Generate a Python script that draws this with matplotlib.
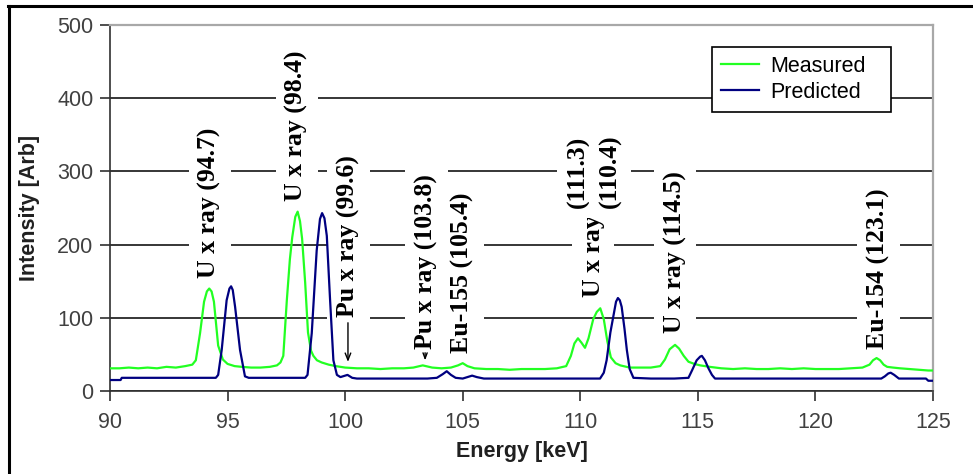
import matplotlib
matplotlib.use("Agg")
import matplotlib.pyplot as plt
from matplotlib.lines import Line2D

# Measured spectrum (green)
meas_e = [90.0, 90.4, 90.8, 91.2, 91.6, 92.0, 92.4, 92.8, 93.2, 93.5, 93.65, 93.83, 94.0, 94.12,
          94.22, 94.32, 94.42, 94.6, 94.8, 95.0, 95.3, 95.6, 96.0, 96.4, 96.8, 97.1, 97.25, 97.37,
          97.52, 97.65, 97.75, 97.88, 97.98, 98.08, 98.17, 98.3, 98.42, 98.55, 98.65, 98.8, 99.0,
          99.3, 99.6, 100.0, 100.5, 101.0, 101.5, 102.0, 102.5, 102.9, 103.3, 103.7, 104.1, 104.5,
          104.8, 105.0, 105.2, 105.5, 106.0, 106.5, 107.0, 107.5, 108.0, 108.5, 109.0, 109.4, 109.6,
          109.75, 109.9, 110.05, 110.2, 110.35, 110.55, 110.7, 110.85, 111.0, 111.15, 111.3, 111.5,
          111.7, 112.1, 112.5, 113.0, 113.4, 113.6, 113.8, 114.03, 114.2, 114.4, 114.6, 114.85,
          115.1, 115.5, 116.0, 116.5, 117.0, 117.5, 118.0, 118.5, 119.0, 119.5, 120.0, 120.5, 121.0,
          121.5, 122.0, 122.3, 122.45, 122.6, 122.75, 122.9, 123.05, 123.3, 123.6, 124.0, 124.4,
          124.8, 125.0]
meas_i = [31, 31, 32, 31, 32, 31, 33, 32, 34, 36, 42, 79, 122, 136,
          140, 136, 122, 62, 43, 37, 34, 33, 32, 32, 33, 35, 39, 48,
          124, 180, 210, 238, 245, 232, 208, 148, 80, 55, 48, 42, 39,
          36, 34, 32, 31, 31, 30, 31, 31, 32, 35, 32, 31, 32,
          35, 38, 34, 31, 30, 30, 29, 30, 30, 30, 31, 34, 48,
          65, 72, 66, 59, 72, 98, 108, 113, 98, 68, 46, 38,
          35, 32, 32, 32, 34, 43, 57, 63, 58, 48, 40, 37,
          35, 33, 31, 30, 31, 30, 30, 31, 30, 31, 30, 30, 30,
          31, 32, 36, 42, 45, 42, 36, 33, 32, 31, 30, 29,
          28, 28]

# Predicted spectrum (navy)
pred_e = [90.0, 90.45, 90.5, 91.5, 92.5, 93.5, 94.5, 94.6, 94.75, 94.96, 95.08, 95.15, 95.22,
          95.32, 95.53, 95.74, 95.9, 96.5, 97.5, 98.3, 98.4, 98.58, 98.79, 98.93, 99.02, 99.12,
          99.22, 99.36, 99.5, 99.65, 99.8, 100.1, 100.3, 100.5, 101.5, 102.5, 103.5, 103.9, 104.15,
          104.32, 104.5, 104.7, 105.0, 105.2, 105.4, 105.6, 105.9, 107.0, 108.0, 109.0, 110.0,
          110.84, 111.0, 111.12, 111.28, 111.4, 111.52, 111.6, 111.68, 111.76, 111.88, 111.98,
          112.1, 112.26, 113.0, 114.0, 114.6, 114.75, 114.95, 115.1, 115.17, 115.3, 115.45, 115.6,
          115.73, 116.5, 118.0, 120.0, 122.0, 122.8, 122.95, 123.1, 123.2, 123.35, 123.55, 124.0,
          124.7, 124.8, 125.0]
pred_i = [15, 15, 18, 18, 18, 18, 18, 22, 56, 124, 140, 143, 138,
          115, 56, 20, 18, 18, 18, 18, 22, 79, 192, 235, 243, 236,
          212, 124, 42, 22, 19, 22, 18, 17, 17, 17, 17, 18, 23,
          27, 22, 18, 17, 19, 21, 19, 17, 17, 17, 17, 17,
          17, 25, 42, 80, 101, 122, 127, 124, 115, 85, 56,
          30, 18, 17, 17, 18, 28, 42, 47, 48, 42, 31, 22,
          17, 17, 17, 17, 17, 17, 20, 24, 25, 22, 17, 17,
          17, 14, 14]

# Peak labels
label_text = ["U x ray (94.7)", "U x ray (98.4)", "Pu x ray (99.6)", "Pu x ray (103.8)",
              "Eu-155 (105.4)", "U x ray", "(111.3)", "(110.4)", "U x ray (114.5)",
              "Eu-154 (123.1)"]
label_x = [94.25, 97.95, 100.15, 103.45, 105.0, 110.55, 109.9, 111.27, 114.03, 122.67]
label_y = [155, 260, 101, 58, 52, 128, 250, 250, 79, 58]

fig = plt.figure(figsize=(9.73, 4.74), dpi=100)
ax = fig.add_axes([110 / 973, 1 - 391 / 474, 823 / 973, 366 / 474])

ax.plot(meas_e, meas_i, color="#22ff22", lw=1.6, label="Measured", zorder=5)
ax.plot(pred_e, pred_i, color="#000080", lw=1.6, label="Predicted", zorder=5)

ax.set_xlim(90, 125)
ax.set_ylim(0, 500)
ax.set_xticks(range(90, 126, 5))
ax.set_yticks(range(0, 501, 100))
ax.yaxis.grid(True, color="black", lw=1.1)
ax.set_axisbelow(True)

for s in ["top", "right"]:
    ax.spines[s].set_color("#a8a8a8")
    ax.spines[s].set_linewidth(1.6)
for s in ["left", "bottom"]:
    ax.spines[s].set_color("#303030")
    ax.spines[s].set_linewidth(1.2)
ax.tick_params(direction="out", length=7, width=1.2, color="#303030",
               labelsize=15.5, labelcolor="#404040", pad=5, labelfontfamily="Liberation Sans")
ax.tick_params(axis="x", pad=8)

ax.set_xlabel("Energy [keV]", fontsize=15.5, fontweight="bold", family="Liberation Sans",
              color="#202020", labelpad=6)
ax.set_ylabel("Intensity [Arb]", fontsize=15.5, fontweight="bold", family="Liberation Sans",
              color="#202020", labelpad=12)

for t, x, y in zip(label_text, label_x, label_y):
    ax.text(x, y, t, rotation=90, ha="center", va="bottom", fontsize=18.5,
            fontweight="bold", family="Liberation Serif", zorder=4,
            bbox=dict(fc="white", ec="none", pad=7))

# arrows pointing at the small Pu peaks
ax.annotate("", xy=(100.12, 36), xytext=(100.12, 97), zorder=6,
            arrowprops=dict(arrowstyle="->,head_length=0.5,head_width=0.2", lw=1, color="black"))
ax.annotate("", xy=(103.4, 38), xytext=(103.4, 56), zorder=6,
            arrowprops=dict(arrowstyle="->,head_length=0.4,head_width=0.15", lw=1, color="black"))

leg = ax.legend(loc="upper left", bbox_to_anchor=(0.7315, 0.762, 0.2175, 0.178), mode="expand",
                borderaxespad=0, fancybox=False, framealpha=1, edgecolor="black",
                prop={"family": "Liberation Sans", "size": 15.5}, handlelength=1.8,
                handletextpad=0.5, labelspacing=0.25, borderpad=0.4)
leg.get_frame().set_linewidth(1.2)
leg.set_zorder(7)

# outer border of the figure
fig.add_artist(Line2D([8 / 973, 1], [1 - 5.5 / 474, 1 - 5.5 / 474], color="black", lw=2.2))
fig.add_artist(Line2D([8.5 / 973, 8.5 / 973], [0, 1 - 5.5 / 474], color="black", lw=2.2))

fig.savefig("out.png", dpi=100)
